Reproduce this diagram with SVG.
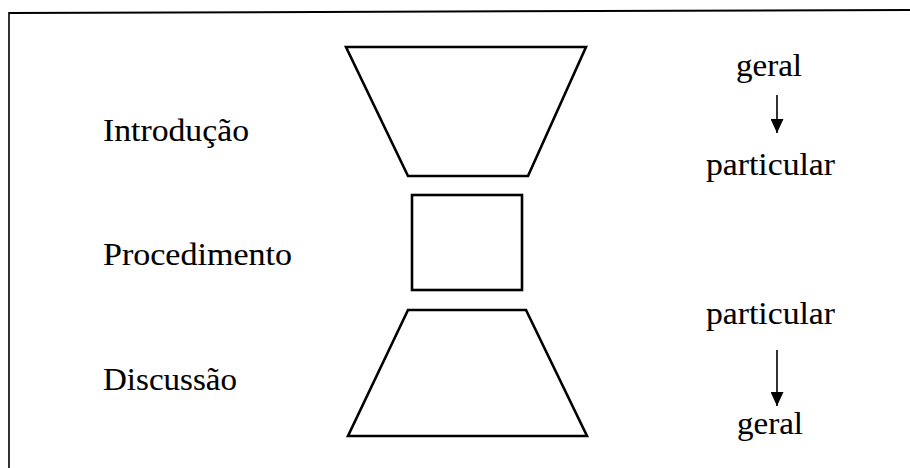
<svg xmlns="http://www.w3.org/2000/svg" width="910" height="468" viewBox="0 0 910 468">
<style>
.shape{fill:none;stroke:#000;stroke-width:2.6;stroke-linejoin:miter}
.lbl{font-family:'Liberation Serif','Times New Roman',serif;font-size:31px;fill:#000;stroke:#000;stroke-width:0.1}
.conn{stroke:#000;stroke-width:1.6;fill:none}
</style>
<defs>
<marker id="ah" viewBox="0 0 14 14" refX="14" refY="7" markerWidth="14" markerHeight="13" markerUnits="userSpaceOnUse" orient="auto" preserveAspectRatio="none">
<path d="M0,0 L14,7 L0,14 Z" fill="#000"/>
</marker>
</defs>
<rect width="910" height="468" fill="#fff"/>
<g id="frame">
<line x1="9" y1="13" x2="910" y2="10" stroke="#000" stroke-width="2"/>
<line x1="9" y1="12" x2="9" y2="468" stroke="#000" stroke-width="1.6"/>
</g>
<g id="introducao">
<polygon class="shape" points="346,47 586,47 528,176 408,176"/>
<text class="lbl" x="103" y="141" textLength="146" lengthAdjust="spacingAndGlyphs">Introdução</text>
</g>
<g id="procedimento">
<rect class="shape" x="412" y="195" width="110" height="95" stroke-width="2.2"/>
<text class="lbl" x="103" y="265" textLength="189" lengthAdjust="spacingAndGlyphs">Procedimento</text>
</g>
<g id="discussao">
<polygon class="shape" points="408,310 526,310 587,436 348,436"/>
<text class="lbl" x="103" y="390" textLength="134" lengthAdjust="spacingAndGlyphs">Discussão</text>
</g>
<g id="geral-top">
<text class="lbl" x="736" y="76" textLength="66" lengthAdjust="spacingAndGlyphs">geral</text>
</g>
<g id="particular-top">
<text class="lbl" x="706" y="175" textLength="129" lengthAdjust="spacingAndGlyphs">particular</text>
</g>
<g id="particular-bottom">
<text class="lbl" x="706" y="324" textLength="129" lengthAdjust="spacingAndGlyphs">particular</text>
</g>
<g id="geral-bottom">
<text class="lbl" x="737" y="434" textLength="66" lengthAdjust="spacingAndGlyphs">geral</text>
</g>
<g id="connectors">
<line class="conn" x1="777" y1="95" x2="777" y2="133" marker-end="url(#ah)"/>
<line class="conn" x1="777" y1="350" x2="777" y2="406" marker-end="url(#ah)"/>
</g>
</svg>
